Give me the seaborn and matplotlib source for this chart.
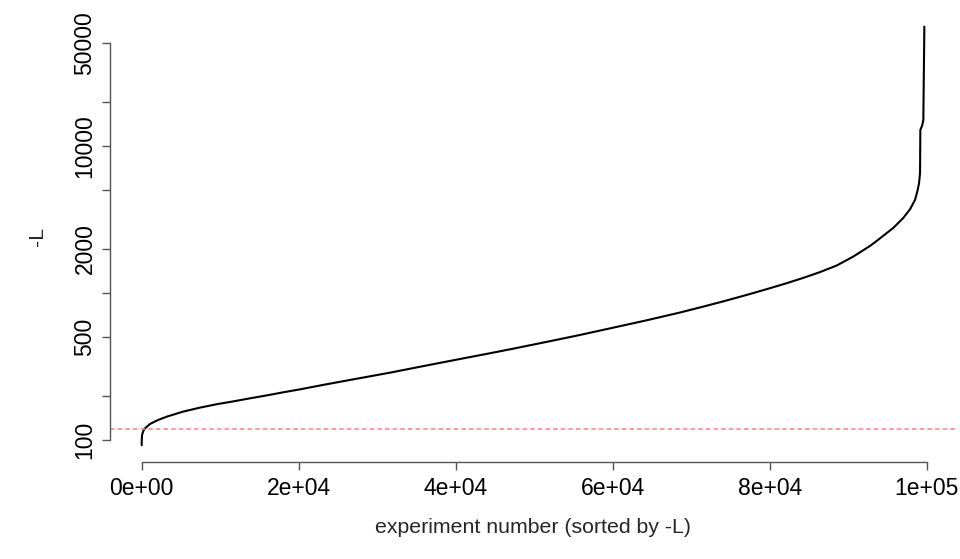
import matplotlib
matplotlib.use("Agg")
import matplotlib.pyplot as plt
import seaborn as sns
import pandas as pd

# Sorted -L values by experiment rank
rank = [1, 10, 40, 200, 420, 1060, 2120, 3180, 5300, 7430, 9550, 11670,
        13800, 15920, 18040, 20170, 23130, 27390, 31630, 35870, 40130, 44370,
        47340, 51590, 55830, 60080, 64330, 68560, 71540, 73670, 75800, 77910,
        80040, 82170, 84280, 86410, 88540, 90650, 92780, 93630, 95750, 97020,
        97870, 98510, 98800, 99020, 99150, 99190, 99440, 99570, 99700]
neg_L = [92, 100, 108, 115, 120, 128.5, 137, 144, 156, 166, 175, 183,
         192, 201, 211, 221, 237, 261, 287, 318, 352, 389,
         418, 465, 518, 581, 652, 736, 808, 865, 929, 999,
         1078, 1166, 1267, 1387, 1538, 1770, 2090, 2260, 2773, 3243,
         3710, 4296, 4890, 5570, 6515, 12850, 13890, 15030, 64900]
threshold = 119

y_ticks = [100, 200, 500, 1000, 2000, 5000, 10000, 20000, 50000]
y_tick_labels = ["100", "", "500", "", "2000", "", "10000", "", "50000"]
x_ticks = [0, 20000, 40000, 60000, 80000, 100000]
x_tick_labels = ["0e+00", "2e+04", "4e+04", "6e+04", "8e+04", "1e+05"]

df = pd.DataFrame({"rank": rank, "negL": neg_L})

sns.set_style("ticks")
plt.rcParams["font.family"] = ["Liberation Sans", "DejaVu Sans"]

fig = plt.figure(figsize=(9.6, 5.59), dpi=100)
ax = fig.add_axes([110 / 960, 97 / 559, 846 / 960, 452 / 559])

sns.lineplot(data=df, x="rank", y="negL", ax=ax, color="black", linewidth=1.5)
ax.axhline(threshold, color="#ff8080", linewidth=1.1, linestyle=(0, (3.0, 2.0)))

ax.set_yscale("log")
ax.set_xlim(-4038, 103732)
ax.set_ylim(70.8, 84200)

ax.set_yticks(y_ticks)
ax.set_yticklabels(y_tick_labels, rotation=90, va="center")
ax.set_xticks(x_ticks)
ax.set_xticklabels(x_tick_labels)
ax.minorticks_off()

for side in ["top", "right"]:
    ax.spines[side].set_visible(False)
ax.spines["left"].set_bounds(100, 50000)
ax.spines["bottom"].set_bounds(0, 100000)
for side in ["left", "bottom"]:
    ax.spines[side].set_color("#555555")
    ax.spines[side].set_linewidth(1.0)

ax.tick_params(axis="both", which="major", direction="out", length=5.8, width=1.0,
               color="#555555", labelsize=16.5, labelcolor="black",
               left=True, bottom=True)
ax.tick_params(axis="x", pad=5)
ax.tick_params(axis="y", pad=4)

ax.set_xlabel("experiment number (sorted by -L)", fontsize=15.3, labelpad=13)
ax.set_ylabel("-L", fontsize=15.3, labelpad=19)

fig.savefig("out.png", dpi=100)
